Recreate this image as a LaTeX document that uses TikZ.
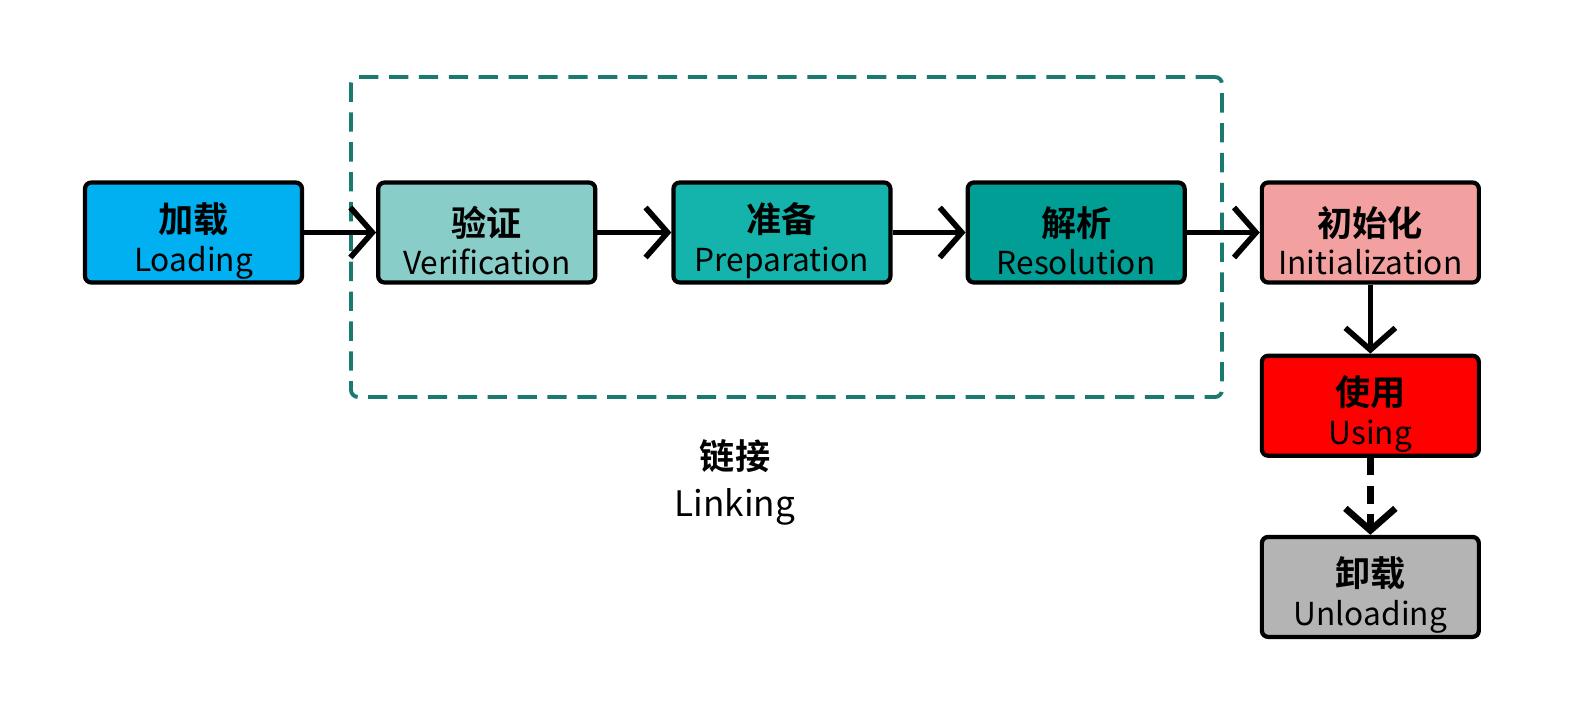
\documentclass[tikz,border=0pt]{standalone}
\usepackage{fontspec}
\newfontfamily\cjk{Noto Sans CJK SC}[BoldFont={Noto Sans CJK SC Bold}]
\usepackage{xcolor}
\usetikzlibrary{arrows.meta,positioning}

\definecolor{loadblue}{HTML}{00B0F0}
\definecolor{verteal}{HTML}{88CDC8}
\definecolor{prepteal}{HTML}{14B4AC}
\definecolor{resteal}{HTML}{019E96}
\definecolor{initpink}{HTML}{F2A0A0}
\definecolor{usered}{HTML}{FF0000}
\definecolor{unloadgray}{HTML}{B4B4B4}
\definecolor{linkteal}{HTML}{1A7A70}

\newcommand{\zh}[1]{{\bfseries\fontsize{10}{11}\selectfont\rule{0pt}{13.2pt}#1}}

\begin{document}
\begin{tikzpicture}[
    node distance=0.69cm and 0.72cm,
    stage/.style={rectangle, draw, line width=1.2pt, rounded corners=1.8pt, minimum width=2.17cm, minimum height=1.0cm, align=center, inner sep=0pt, font=\cjk\fontsize{9}{11}\selectfont},
    arrow/.style={-{Straight Barb[length=2.2mm,width=5mm]}, line width=1.6pt},
]
    \useasboundingbox (0,0) rectangle (15.75,7.01);

    \node[stage, fill=loadblue] (load) at (1.935,4.685) {\zh{加载}\\Loading};
    \node[stage, fill=verteal, right=of load] (ver) {\zh{验证}\\Verification};
    \node[stage, fill=prepteal, right=0.74cm of ver] (prep) {\zh{准备}\\Preparation};
    \node[stage, fill=resteal, right=0.73cm of prep] (res) {\zh{解析}\\Resolution};
    \node[stage, fill=initpink, right=0.73cm of res] (init) {\zh{初始化}\\Initialization};
    \node[stage, fill=usered, below=of init] (use) {\zh{使用}\\Using};
    \node[stage, fill=unloadgray, below=0.77cm of use] (unload) {\zh{卸载}\\Unloading};

    % linking phase
    \node[draw=linkteal, line width=1.1pt, dash pattern=on 5.5pt off 3pt, rounded corners=2pt, minimum width=8.71cm, minimum height=3.2cm] (linkbox) at (7.865,4.64) {};
    \node[align=center, font=\cjk\fontsize{10}{13.5}\selectfont] (linklabel) at (7.35,2.27) {\zh{链接}\\Linking};

    \draw[arrow] (load) -- (ver);
    \draw[arrow] (ver) -- (prep);
    \draw[arrow] (prep) -- (res);
    \draw[arrow] (res) -- (init);
    \draw[arrow] (init) -- (use);
    \draw[arrow, line width=1.9pt, dash pattern=on 5pt off 3pt] (use) -- (unload);
\end{tikzpicture}
\end{document}
